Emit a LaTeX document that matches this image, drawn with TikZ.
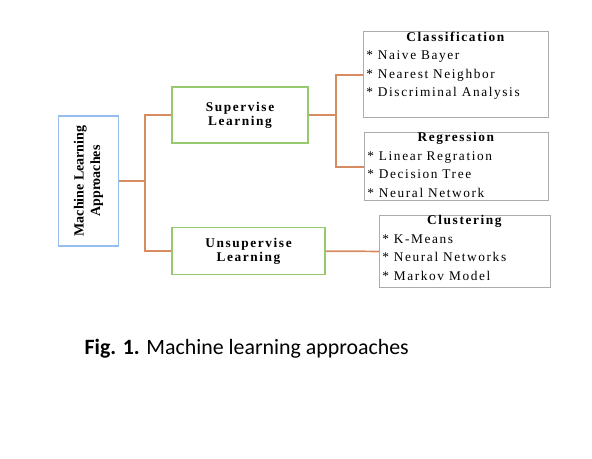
\documentclass[tikz,border=0pt]{standalone}
\usepackage{fontspec}
\setmainfont{Liberation Serif}
\newfontfamily\spacedserif[LetterSpace=12]{Liberation Serif}
\newfontfamily\captionfont{Carlito}
\usetikzlibrary{positioning}

\definecolor{linkorange}{RGB}{214,140,96}
\definecolor{learngreen}{RGB}{150,200,110}
\definecolor{rootblue}{RGB}{150,190,238}
\definecolor{listgray}{RGB}{172,172,172}

% title centred on top, items flush left below
\newcommand{\methodlist}[4]{\parbox[c][#1][t]{#2}{\centering\textbf{#3}\par\raggedright #4}}

\begin{document}
\begin{tikzpicture}[
  x=0.75pt, y=-0.75pt,
  root/.style={draw=rootblue, line width=1.3pt, rotate=90, align=center, minimum width=97pt, minimum height=45pt, font=\bfseries\fontsize{10.5}{12.5}\selectfont, inner sep=1pt},
  learn/.style={draw=learngreen, line width=1.3pt, align=center, font=\spacedserif\bfseries\fontsize{10}{10.5}\selectfont, inner sep=1pt},
  methodbox/.style={draw=listgray, line width=1pt, anchor=north west, inner xsep=2pt, inner ysep=0pt, font=\spacedserif\fontsize{10}{13.9}\selectfont},
  link/.style={draw=linkorange, line width=1.3pt}
]
\useasboundingbox (0,0) rectangle (592,458);

\node[root] (ml) at (88.5,181) {Machine Learning\\Approaches};
\node[learn, minimum width=102pt, minimum height=42pt] (sup) at (240,115) {Supervise\\Learning};
\node[learn, minimum width=114.75pt, minimum height=35.25pt] (unsup) at (248.5,251) {Unsupervise\\Learning};

\node[methodbox] (cls) at (363,31) {\methodlist{64.5pt}{134.75pt}{Classification}{{*} Naive Bayer\\{*} Nearest Neighbor\\{*} Discriminal Analysis}};
\node[methodbox] (reg) at (364,132) {\methodlist{51pt}{134pt}{Regression}{{*} Linear Regration\\{*} Decision Tree\\{*} Neural Network}};
\node[methodbox] (clu) at (379,215) {\methodlist{54pt}{124.25pt}{Clustering}{{*} K-Means\\{*} Neural Networks\\{*} Markov Model}};

\coordinate (fork) at (145,181);
\coordinate (split) at (336,115);

\draw[link] (ml) -- (fork);
\draw[link] (fork) |- (sup);
\draw[link] (fork) |- (unsup);
\draw[link] (sup) -- (split);
\draw[link] (split) |- (cls);
\draw[link] (split) |- (reg);
\draw[link] (unsup) -- (clu);

\node[anchor=base west, font=\captionfont\fontsize{16.4}{19}\selectfont] (caption) at (80,354) {\textbf{Fig. 1.} Machine learning approaches};
\end{tikzpicture}
\end{document}
